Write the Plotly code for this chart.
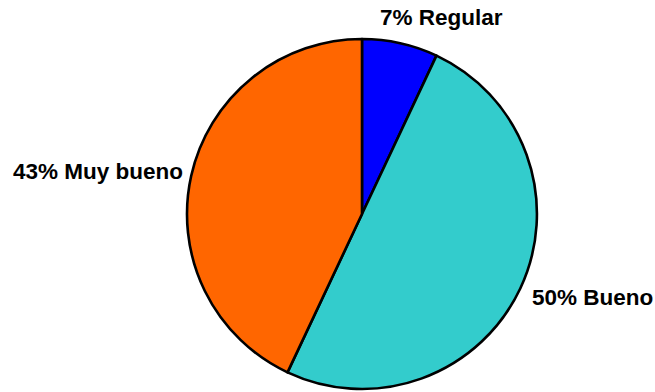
import plotly.graph_objects as go

labels = ["Regular", "Bueno", "Muy bueno"]
values = [7, 50, 43]
colors = ["#0000FF", "#33CCCC", "#FF6600"]

W, H = 655, 392
cx, cy, r = 362, 214, 175

fig = go.Figure(go.Pie(
    labels=labels,
    values=values,
    sort=False,
    direction="clockwise",
    rotation=0,
    marker=dict(colors=colors, line=dict(color="black", width=2.6)),
    textinfo="none",
    hoverinfo="label+percent",
    showlegend=False,
    domain=dict(x=[(cx - r) / W, (cx + r) / W], y=[1 - (cy + r) / H, 1 - (cy - r) / H]),
))

# label placement (pixel positions of text anchors)
label_pos = {
    "Regular": (441.5, 17, "center"),
    "Bueno": (530, 297, "left"),
    "Muy bueno": (185, 172, "right"),
}
total = sum(values)
for lab, val in zip(labels, values):
    px, py, anchor = label_pos[lab]
    fig.add_annotation(
        x=px / W, y=1 - py / H, xref="paper", yref="paper",
        text=f"{round(100 * val / total)}% {lab}",
        showarrow=False, xanchor=anchor, yanchor="middle",
        font=dict(family="Liberation Sans, Arial", size=22.5, color="black", weight="bold"),
    )

fig.update_layout(
    width=W, height=H,
    margin=dict(l=0, r=0, t=0, b=0),
    paper_bgcolor="white",
    plot_bgcolor="white",
)

fig.write_html("out.html")
